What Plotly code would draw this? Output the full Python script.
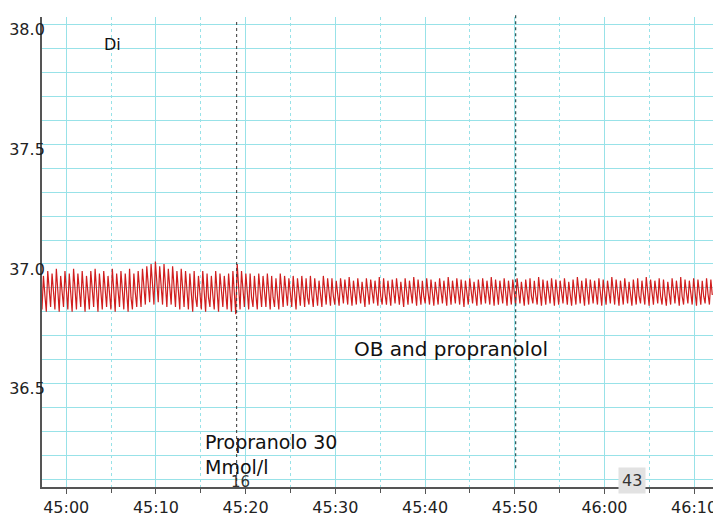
import plotly.graph_objects as go

# ---- data ----
x_tick_vals = [2700, 2710, 2720, 2730, 2740, 2750, 2760, 2770]
x_tick_text = ["45:00", "45:10", "45:20", "45:30", "45:40", "45:50", "46:00", "46:10"]
y_tick_vals = [36.5, 37.0, 37.5, 38.0]
y_tick_text = ["36.5", "37.0", "37.5", "38.0"]

t_start = 2697.3          # 44:57.3, first sample
sample_step = 0.16        # seconds between samples (3 samples per beat)

beat_peak = [
    36.95, 36.97, 36.96, 36.98, 36.95, 36.97, 36.96, 36.98, 36.96, 36.97,
    36.95, 36.97, 36.98, 36.96, 36.97, 36.95, 36.98, 36.96, 36.97, 36.96,
    36.98, 36.96, 36.97, 36.98, 36.99, 37.00, 37.01, 36.99, 37.00, 36.98,
    36.99, 36.97, 36.98, 36.97, 36.96, 36.97, 36.95, 36.97, 36.96, 36.95,
    36.97, 36.96, 36.95, 36.96, 36.97, 37.00, 36.97, 36.96, 36.96, 36.95,
    36.96, 36.95, 36.96, 36.95, 36.94, 36.96, 36.95, 36.94, 36.95, 36.94,
    36.95, 36.94, 36.95, 36.94, 36.93, 36.95, 36.94, 36.94, 36.93, 36.94,
    36.935, 36.945, 36.93, 36.94, 36.925, 36.94, 36.935, 36.93, 36.945, 36.94,
    36.93, 36.935, 36.94, 36.925, 36.94, 36.93, 36.945, 36.935, 36.93, 36.94,
    36.935, 36.925, 36.94, 36.93, 36.945, 36.93, 36.94, 36.935, 36.93, 36.94,
    36.925, 36.935, 36.94, 36.93, 36.945, 36.935, 36.93, 36.94, 36.93, 36.935,
    36.94, 36.925, 36.935, 36.94, 36.93, 36.945, 36.935, 36.93, 36.94, 36.935,
    36.93, 36.94, 36.925, 36.935, 36.945, 36.93, 36.94, 36.935, 36.93, 36.94,
    36.935, 36.93, 36.945, 36.935, 36.93, 36.94, 36.925, 36.935, 36.94, 36.93,
    36.945, 36.935, 36.93, 36.94, 36.935, 36.925, 36.94, 36.93, 36.945, 36.935,
    36.93, 36.94, 36.935, 36.93, 36.94, 36.935,
]
beat_mid = [
    36.87, 36.88, 36.86, 36.87, 36.88, 36.87, 36.86, 36.88, 36.87, 36.86,
    36.87, 36.88, 36.87, 36.86, 36.88, 36.87, 36.86, 36.87, 36.88, 36.87,
    36.86, 36.88, 36.87, 36.88, 36.89, 36.90, 36.91, 36.89, 36.90, 36.89,
    36.88, 36.89, 36.88, 36.87, 36.87, 36.86, 36.88, 36.87, 36.86, 36.87,
    36.88, 36.87, 36.86, 36.87, 36.88, 36.89, 36.88, 36.87, 36.86, 36.87,
    36.88, 36.87, 36.87, 36.86, 36.87, 36.88, 36.87, 36.86, 36.87, 36.88,
    36.87, 36.86, 36.87, 36.875, 36.87, 36.88, 36.87, 36.865, 36.875, 36.88,
    36.87, 36.875, 36.865, 36.88, 36.87, 36.875, 36.87, 36.88, 36.865, 36.875,
    36.87, 36.88, 36.875, 36.865, 36.87, 36.88, 36.875, 36.87, 36.865, 36.88,
    36.875, 36.87, 36.88, 36.865, 36.875, 36.87, 36.88, 36.875, 36.865, 36.87,
    36.88, 36.875, 36.87, 36.865, 36.88, 36.875, 36.87, 36.88, 36.865, 36.875,
    36.87, 36.88, 36.875, 36.865, 36.87, 36.88, 36.875, 36.87, 36.865, 36.88,
    36.875, 36.87, 36.88, 36.865, 36.875, 36.87, 36.88, 36.875, 36.865, 36.87,
    36.88, 36.875, 36.87, 36.865, 36.88, 36.875, 36.87, 36.88, 36.865, 36.875,
    36.87, 36.88, 36.875, 36.865, 36.87, 36.88, 36.875, 36.87, 36.865, 36.88,
    36.875, 36.87, 36.88, 36.865, 36.875, 36.87,
]
beat_trough = [
    36.81, 36.80, 36.82, 36.81, 36.80, 36.82, 36.81, 36.80, 36.81, 36.82,
    36.80, 36.81, 36.82, 36.80, 36.81, 36.82, 36.81, 36.80, 36.82, 36.81,
    36.80, 36.81, 36.82, 36.82, 36.83, 36.84, 36.83, 36.84, 36.83, 36.82,
    36.83, 36.82, 36.81, 36.82, 36.81, 36.80, 36.82, 36.81, 36.80, 36.82,
    36.81, 36.80, 36.82, 36.81, 36.80, 36.79, 36.81, 36.82, 36.81, 36.82,
    36.81, 36.82, 36.82, 36.81, 36.82, 36.81, 36.82, 36.825, 36.82, 36.81,
    36.825, 36.82, 36.83, 36.82, 36.825, 36.82, 36.83, 36.825, 36.83, 36.825,
    36.835, 36.83, 36.825, 36.83, 36.835, 36.82, 36.83, 36.835, 36.825, 36.83,
    36.83, 36.825, 36.835, 36.83, 36.82, 36.83, 36.835, 36.825, 36.83, 36.835,
    36.83, 36.825, 36.83, 36.835, 36.825, 36.83, 36.835, 36.83, 36.82, 36.83,
    36.835, 36.825, 36.83, 36.835, 36.83, 36.825, 36.83, 36.835, 36.825, 36.83,
    36.83, 36.835, 36.825, 36.83, 36.835, 36.83, 36.825, 36.83, 36.835, 36.825,
    36.83, 36.835, 36.83, 36.825, 36.83, 36.835, 36.825, 36.83, 36.835, 36.83,
    36.825, 36.83, 36.835, 36.83, 36.825, 36.83, 36.835, 36.825, 36.83, 36.835,
    36.83, 36.825, 36.83, 36.835, 36.83, 36.825, 36.83, 36.835, 36.825, 36.83,
    36.835, 36.83, 36.825, 36.83, 36.835, 36.83,
]

marker_times = [2719.0, 2750.1]

# ---- build the trace ----
signal = []
for tr, pk, md in zip(beat_trough, beat_peak, beat_mid):
    signal.extend([tr, pk, md])
times = [t_start + k * sample_step for k in range(len(signal))]

grid_col = "#98e2e8"
axis_col = "#555555"
font_fam = "DejaVu Sans, Verdana, sans-serif"

fig = go.Figure()
fig.add_trace(go.Scatter(
    x=times, y=signal, mode="lines",
    line=dict(color="#d01e1e", width=1.2),
    hoverinfo="skip", showlegend=False,
))

# vertical event markers
fig.add_shape(type="line", xref="x", yref="paper", x0=marker_times[0], x1=marker_times[0],
              y0=0.0, y1=0.99, line=dict(color="#333333", width=1, dash="dot"))
fig.add_shape(type="line", xref="x", yref="paper", x0=marker_times[1], x1=marker_times[1],
              y0=0.04, y1=1.01, line=dict(color="#2f5555", width=1.2, dash="dot"))

ann_font = dict(family=font_fam, size=19, color="#111111")
fig.add_annotation(x=2705.2, y=37.92, xref="x", yref="y", text="Di", showarrow=False,
                   font=dict(family=font_fam, size=16, color="#111111"))
fig.add_annotation(x=2731.9, y=36.645, xref="x", yref="y", text="OB and propranolol",
                   showarrow=False, xanchor="left", font=dict(family=font_fam, size=20, color="#111111"))
fig.add_annotation(x=2715.2, y=36.255, xref="x", yref="y", text="Propranolo 30",
                   showarrow=False, xanchor="left", font=ann_font)
fig.add_annotation(x=2715.2, y=36.152, xref="x", yref="y", text="Mmol/l",
                   showarrow=False, xanchor="left", font=ann_font)
fig.add_annotation(x=2719.4, y=36.088, xref="x", yref="y", text="16", showarrow=False,
                   font=dict(family=font_fam, size=15, color="#333333"))
fig.add_annotation(x=2763.1, y=36.094, xref="x", yref="y", text="43", showarrow=False,
                   bgcolor="#e2e2e2", borderpad=3,
                   font=dict(family=font_fam, size=16, color="#333333"))

# page is shown with an 8 px body offset, so the figure is sized to fit
fig.update_layout(
    width=713, height=511,
    margin=dict(l=34, r=8, t=9, b=32, autoexpand=False),
    paper_bgcolor="white", plot_bgcolor="white",
    font=dict(family=font_fam, size=16, color="#222222"),
    xaxis=dict(
        range=[2697.3, 2772.1], automargin=False,
        tickmode="array", tickvals=x_tick_vals, ticktext=x_tick_text,
        showgrid=True, gridcolor=grid_col, gridwidth=1,
        showline=True, linecolor=axis_col, linewidth=1.5,
        ticks="outside", ticklen=5, tickcolor=axis_col,
        minor=dict(tickmode="linear", tick0=2695, dtick=5, showgrid=True,
                   gridcolor=grid_col, griddash="dot", ticks="outside",
                   ticklen=4, tickcolor=axis_col),
        zeroline=False,
    ),
    yaxis=dict(
        range=[36.067, 38.033], automargin=False,
        tickmode="array", tickvals=y_tick_vals, ticktext=y_tick_text,
        showgrid=True, gridcolor=grid_col, gridwidth=1,
        showline=True, linecolor=axis_col, linewidth=2,
        ticks="", ticklabelstandoff=-8, ticklabelshift=5,
        tickfont=dict(family=font_fam, size=16, color="#222222"),
        minor=dict(tickmode="linear", tick0=36.0, dtick=0.1, showgrid=True,
                   gridcolor=grid_col, gridwidth=1),
        zeroline=False,
    ),
)

fig.write_html("out.html")
